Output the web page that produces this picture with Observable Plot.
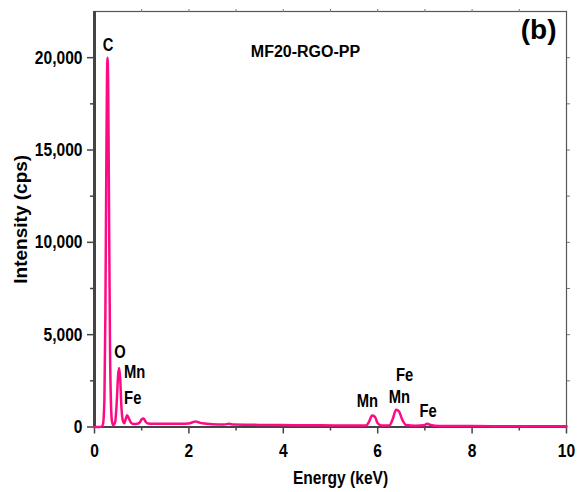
<!DOCTYPE html>
<html>
<head>
<meta charset="utf-8">
<script src="https://cdn.jsdelivr.net/npm/d3@7"></script>
<script src="https://cdn.jsdelivr.net/npm/@observablehq/plot@0.6"></script>
<style>
  html, body { margin: 0; padding: 0; background: #fff; }
  #chart svg { display: block; }
</style>
</head>
<body>
<div id="chart"></div>
<script>
// EDS spectrum
const energy = [0.00, 0.10, 0.15, 0.18, 0.21, 0.23, 0.25, 0.265, 0.277, 0.29, 0.31, 0.33, 0.35, 0.37, 0.40,
  0.44, 0.47, 0.50, 0.52, 0.545, 0.57, 0.60, 0.63, 0.66, 0.69, 0.73, 0.78, 0.84, 0.90, 0.96, 1.00, 1.04, 1.08, 1.13,
  1.25, 1.5, 1.8, 2.0, 2.08, 2.14, 2.20, 2.28, 2.5, 2.75, 2.85, 2.95, 3.3, 3.7, 4.2, 4.8, 5.5, 5.75, 5.82, 5.88, 5.94,
  6.0, 6.08, 6.25, 6.32, 6.39, 6.45, 6.52, 6.6, 6.8, 6.98, 7.05, 7.12, 7.3, 8.0, 9.0, 10.0];
const counts = [0, 0, 20, 150, 1500, 6000, 14000, 19000, 20000, 18500, 11000, 4000, 1200, 300, 100,
  300, 1300, 2800, 3200, 2600, 1100, 350, 200, 420, 640, 450, 220, 160, 170, 250, 420, 460, 300, 190,
  175, 180, 180, 190, 260, 300, 260, 200, 150, 140, 170, 130, 120, 110, 100, 90, 80, 85, 300, 620, 560,
  200, 80, 90, 450, 930, 850, 400, 110, 70, 90, 180, 110, 60, 50, 40, 40];

// peak annotations (energy, intensity of label centre)
const peakLabels = ["C", "O", "Mn", "Fe", "Mn", "Fe", "Mn", "Fe"];
const peakLabelEnergy = [0.29, 0.54, 0.85, 0.81, 5.78, 6.57, 6.46, 7.07];
const peakLabelIntensity = [20700, 4040, 2990, 1540, 1410, 2830, 1590, 870];

const xMajorTicks = [0, 2, 4, 6, 8, 10];
const xMinorTicks = [1, 3, 5, 7, 9];
const xTopTicks = [1, 2, 3, 4, 5, 6, 7, 8, 9];
const yMajorTicks = [0, 5000, 10000, 15000, 20000];
const yMinorTicks = [2500, 7500, 12500, 17500];
const yRightTicks = [2500, 5000, 7500, 10000, 12500, 15000, 17500, 20000];

const xTitle = "Energy (keV)";
const yTitle = "Intensity (cps)";
const sampleName = "MF20-RGO-PP";
const panelTag = "(b)";

const spectrum = energy.map((e, i) => ({energy: e, counts: counts[i]}));
const labels = peakLabels.map((t, i) => ({text: t, energy: peakLabelEnergy[i], counts: peakLabelIntensity[i]}));

const font = "'Liberation Sans', Arial, sans-serif";
const pink = "#ff0a84";
const axisGray = "#444";

const chart = Plot.plot({
  width: 582,
  height: 492,
  marginLeft: 94,
  marginRight: 16,
  marginTop: 11,
  marginBottom: 65.5,
  style: {fontFamily: font, fontWeight: "bold", fontSize: "19px", color: "#000", background: "#fff"},
  x: {domain: [0, 10]},
  y: {domain: [0, 22500]},
  marks: [
    Plot.frame({stroke: "#555", strokeWidth: 1.2}),
    Plot.axisX({ticks: xMajorTicks, tickSize: 7, tickPadding: 9, stroke: axisGray, strokeWidth: 1.5, fontSize: 19, label: null, tickFormat: d3.format("d"), className: "narrow"}),
    Plot.axisX({ticks: xMinorTicks, tickSize: 4, stroke: axisGray, strokeWidth: 1.5, label: null, tickFormat: () => ""}),
    Plot.axisX({ticks: xTopTicks, anchor: "top", tickSize: 3, stroke: "#777", label: null, tickFormat: () => ""}),
    Plot.axisY({ticks: yMajorTicks, tickSize: 7, tickPadding: 5, stroke: axisGray, strokeWidth: 1.5, fontSize: 19, label: null, tickFormat: d3.format(",d"), className: "narrow"}),
    Plot.axisY({ticks: yMinorTicks, tickSize: 4, stroke: axisGray, strokeWidth: 1.5, label: null, tickFormat: () => ""}),
    Plot.axisY({ticks: yRightTicks, anchor: "right", tickSize: 3, stroke: "#777", label: null, tickFormat: () => ""}),
    Plot.ruleX([0], {stroke: axisGray, strokeWidth: 3}),
    Plot.ruleY([0], {stroke: axisGray, strokeWidth: 1.8}),
    Plot.line(spectrum, {x: "energy", y: "counts", stroke: pink, strokeWidth: 2.5, curve: "monotone-x"}),
    Plot.text(labels, {x: "energy", y: "counts", text: "text", fontSize: 18, fill: "#000", className: "narrow"}),
    Plot.text([sampleName], {frameAnchor: "top", dx: -25, dy: 34, fontSize: 16, fill: "#000"}),
    Plot.text([panelTag], {frameAnchor: "top-right", dx: -10, dy: 8, fontSize: 28, fill: "#000"}),
    Plot.text([xTitle], {frameAnchor: "bottom", dx: 10, dy: 57, fontSize: 19, fill: "#000", className: "narrow"}),
    Plot.text([yTitle], {frameAnchor: "left", textAnchor: "middle", dx: -74, rotate: -90, fontSize: 19, fill: "#000"})
  ]
});
document.getElementById("chart").appendChild(chart);

// condense the narrow (Arial Narrow–like) labels horizontally
d3.select(chart).selectAll(".narrow text").each(function () {
  const w = this.getComputedTextLength();
  if (w > 0) {
    this.setAttribute("textLength", (w * 0.82).toFixed(2));
    this.setAttribute("lengthAdjust", "spacingAndGlyphs");
  }
});
</script>
</body>
</html>
